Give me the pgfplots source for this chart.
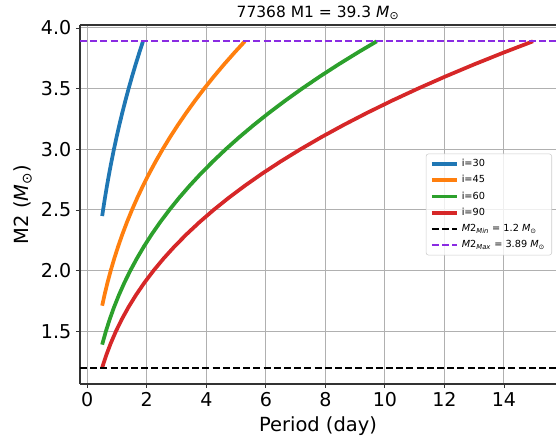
\documentclass[border=0pt]{standalone}
\usepackage{pgfplots}
\pgfplotsset{compat=1.18}
\usepackage{fontspec}
\setmainfont{DejaVu Sans}
\newcommand{\Msun}{\textit{M}\textsubscript{⊙}}
\definecolor{tabblue}{HTML}{1F77B4}
\definecolor{taborange}{HTML}{FF7F0E}
\definecolor{tabgreen}{HTML}{2CA02C}
\definecolor{tabred}{HTML}{D62728}
\definecolor{bviolet}{HTML}{8A2BE2}
\definecolor{gridgray}{HTML}{B0B0B0}

\begin{document}
\begin{tikzpicture}
\begin{axis}[
    scale only axis,
    width=357pt, height=269.25pt,
    xmin=-0.245, xmax=15.75,
    ymin=1.0655, ymax=4.0245,
    axis x line*=box, axis y line*=left,
    xtick={0,2,4,6,8,10,12,14},
    ytick={1.5,2,2.5,3,3.5,4},
    xtick pos=left, ytick pos=left,
    tick align=outside,
    major tick length=3pt,
    tick style={line width=0.6pt, black!80},
    axis line style={line width=0.8pt, black!80},
    grid=major,
    grid style={line width=0.8pt, gridgray},
    ticklabel style={font=\fontsize{14.3}{16}\selectfont},
    /pgf/number format/assume math mode=true,
    yticklabel style={/pgf/number format/.cd, fixed, fixed zerofill, precision=1},
    label style={font=\fontsize{14.6}{17}\selectfont},
    xlabel={Period (day)},
    ylabel={M2 (\Msun)},
    title={77368 M1 = 39.3 \Msun},
    every axis title shift=0pt,
    title style={font=\fontsize{11.6}{14}\selectfont,
        at={(rel axis cs:0.5,1)}, anchor=base, yshift=5.8pt},
    legend style={
        at={(rel axis cs:1,0.5)}, anchor=east, xshift=-3pt,
        font=\fontsize{7.3}{8.5}\selectfont,
        draw=black!20, rounded corners=2pt,
        fill=white, fill opacity=0.8, text opacity=1,
        row sep=1.2pt,
    },
    legend cell align=left,
    legend image code/.code={\draw[#1] (0pt,0pt) -- (19pt,0pt);},
]
\coordinate (bl) at (rel axis cs:0,0);
\coordinate (tr) at (rel axis cs:1,1);

% i = 30
\addplot[tabblue, line width=2.8pt] coordinates {
    (0.5005,2.45)(0.5305,2.5)(0.5939,2.6)(0.6620,2.7)(0.7348,2.8)(0.8125,2.9)
    (0.8952,3.0)(0.9831,3.1)(1.0762,3.2)(1.1748,3.3)(1.2789,3.4)(1.3886,3.5)
    (1.5040,3.6)(1.6252,3.7)(1.7524,3.8)(1.8721,3.89)
};
\addlegendentry{i=30}

% i = 45
\addplot[taborange, line width=2.8pt] coordinates {
    (0.5,1.711)(0.5793,1.8)(0.6780,1.9)(0.7870,2.0)(0.9067,2.1)(1.0374,2.2)
    (1.1797,2.3)(1.3340,2.4)(1.5006,2.5)(1.6799,2.6)(1.8723,2.7)(2.0783,2.8)
    (2.2981,2.9)(2.5321,3.0)(2.7806,3.1)(3.0441,3.2)(3.3229,3.3)(3.6173,3.4)
    (3.9274,3.5)(4.2539,3.6)(4.5968,3.7)(4.9566,3.8)(5.2951,3.89)
};
\addlegendentry{i=45}

% i = 60
\addplot[tabgreen, line width=2.8pt] coordinates {
    (0.5,1.39)(0.5106,1.4)(0.6250,1.5)(0.7548,1.6)(0.9010,1.7)(1.0643,1.8)
    (1.2457,1.9)(1.4459,2.0)(1.6657,2.1)(1.9059,2.2)(2.1673,2.3)(2.4507,2.4)
    (2.7568,2.5)(3.0862,2.6)(3.4398,2.7)(3.8180,2.8)(4.2218,2.9)(4.6517,3.0)
    (5.1084,3.1)(5.5925,3.2)(6.1045,3.3)(6.6454,3.4)(7.2152,3.5)(7.8149,3.6)
    (8.4450,3.7)(9.1060,3.8)(9.7278,3.89)
};
\addlegendentry{i=60}

% i = 90
\addplot[tabred, line width=2.8pt] coordinates {
    (0.5,1.2)(0.6326,1.3)(0.7862,1.4)(0.9623,1.5)(1.1621,1.6)(1.3871,1.7)
    (1.6386,1.8)(1.9178,1.9)(2.2260,2.0)(2.5645,2.1)(2.9343,2.2)(3.3368,2.3)
    (3.7731,2.4)(4.2443,2.5)(4.7515,2.6)(5.2958,2.7)(5.8782,2.8)(6.4999,2.9)
    (7.1618,3.0)(7.8648,3.1)(8.6101,3.2)(9.3985,3.3)(10.2312,3.4)(11.1084,3.5)
    (12.0318,3.6)(13.0018,3.7)(14.0194,3.8)(14.9768,3.89)
};
\addlegendentry{i=90}

\addplot[black, line width=1.5pt, dash pattern=on 5.25pt off 2.4pt] coordinates {
    (-0.245,1.2)(15.75,1.2)
};
\addlegendentry{\textit{M}2\textsubscript{\textit{Min}} = 1.2 \Msun}

\addplot[bviolet, line width=1.5pt, dash pattern=on 5.25pt off 2.4pt] coordinates {
    (-0.245,3.89)(15.75,3.89)
};
\addlegendentry{\textit{M}2\textsubscript{\textit{Max}} = 3.89 \Msun}

\end{axis}
\pgfresetboundingbox
\path ([shift={(-60pt,-40.5pt)}]bl) rectangle ([shift={(0pt,18.75pt)}]tr);
\end{tikzpicture}
\end{document}
